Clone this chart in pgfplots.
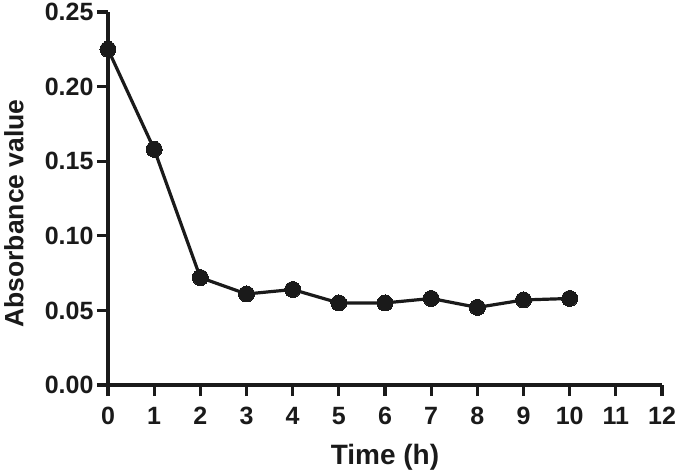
\documentclass[border=0pt]{standalone}
\usepackage{pgfplots}
\pgfplotsset{compat=1.18}
\usepackage{fontspec}
\setmainfont{Liberation Sans}
\definecolor{ink}{HTML}{1A1A1A}
\begin{document}
\begin{tikzpicture}
\begin{axis}[
  name=ax,
  scale only axis,
  width=554pt, height=373pt,
  xmin=0, xmax=12, ymin=0, ymax=0.25,
  axis lines=left,
  axis line style={line width=3.1pt, color=ink, -},
  xtick={0,1,...,12},
  xticklabels={0,1,2,3,4,5,6,7,8,9,10,11,12},
  ytick={0,0.05,0.10,0.15,0.20,0.25},
  yticklabels={0.00,0.05,0.10,0.15,0.20,0.25},
  tick style={line width=3.1pt, color=ink},
  major tick length=11pt,
  tick align=outside,
  ticklabel style={font=\fontsize{25}{25}\selectfont\bfseries, color=ink},
  xticklabel style={anchor=north, yshift=-7.5pt},
  yticklabel style={anchor=east, xshift=0pt},
  xlabel={Time (h)},
  ylabel={Absorbance value},
  label style={font=\fontsize{28}{28}\selectfont\bfseries, color=ink},
  xlabel style={at={(axis description cs:0.5,0)}, anchor=base, yshift=-79pt},
  ylabel style={at={(axis description cs:0,0.46)}, anchor=center, yshift=94pt, font=\fontsize{26.5}{26.5}\selectfont\bfseries},
  clip=false,
]
\addplot[color=ink, line width=3.2pt, mark=*, mark size=8pt, mark options={fill=ink, draw=ink, line width=0pt}]
coordinates {(0,0.225) (1,0.158) (2,0.072) (3,0.061) (4,0.064) (5,0.055) (6,0.055) (7,0.058) (8,0.052) (9,0.057) (10,0.058)};
\end{axis}
\pgfresetboundingbox
\path ([shift={(-108pt,-89pt)}]ax.south west) rectangle ([shift={(23pt,12pt)}]ax.north east);
\end{tikzpicture}
\end{document}
